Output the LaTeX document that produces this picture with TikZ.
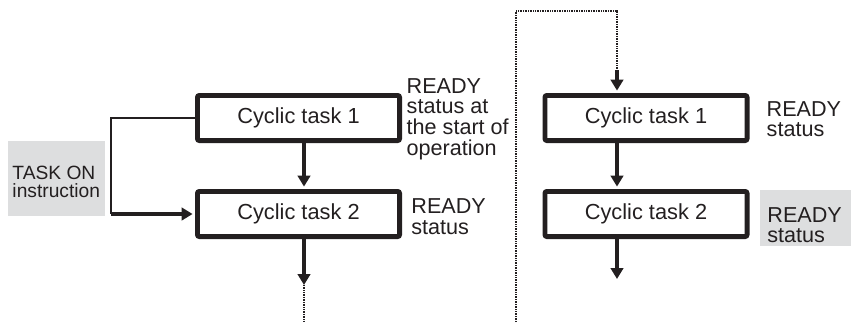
\documentclass[tikz,border=0pt]{standalone}
\usepackage{fontspec}
\setmainfont{Liberation Sans}
\usetikzlibrary{arrows.meta}
\definecolor{ink}{RGB}{35,31,32}
\definecolor{labelgray}{RGB}{221,222,223}
\begin{document}
\begin{tikzpicture}[x=1pt,y=-1pt,
  taskbox/.style={draw=ink, line width=4.8pt, rounded corners=2pt, minimum width=202.2pt, minimum height=45.2pt, inner sep=0pt, text=ink, font=\fontsize{21.8}{24}\selectfont},
  lbl/.style={anchor=north west, inner sep=0pt, align=left, text=ink, font=\fontsize{21.6}{20.8}\selectfont},
  smalllbl/.style={anchor=north west, inner sep=0pt, align=left, text=ink, font=\fontsize{19.2}{18}\selectfont},
  flow/.style={draw=ink, line width=3.8pt, -{Triangle[length=11pt,width=12.5pt]}},
  dotline/.style={draw=ink, line width=2pt, dash pattern=on 1pt off 0.7pt},
  thinline/.style={draw=ink, line width=1.1pt}]
\useasboundingbox (0,0) rectangle (851,322);
% gray backgrounds
\fill[labelgray] (8,141) rectangle (105,216);
\fill[labelgray] (760,190) rectangle (851,246);
% boxes
\node[taskbox] (lb1) at (298.5,118) {Cyclic task 1};
\node[taskbox] (lb2) at (298.5,214) {Cyclic task 2};
\node[taskbox] (rb1) at (646,118) {Cyclic task 1};
\node[taskbox] (rb2) at (646,214) {Cyclic task 2};
% labels
\node[lbl] (l1) at (406.5,78) {READY\\status at\\the start of\\operation};
\node[lbl] (l2) at (411.2,198.6) {READY\\status};
\node[lbl] (r1) at (766.5,101) {READY\\status};
\node[lbl] (r2) at (767.2,207) {READY\\status};
\node[smalllbl] (task) at (12.3,166) {TASK ON\\instruction};
% coordinates
\coordinate (la) at (304,0);
\coordinate (ra) at (617,0);
\coordinate (jx) at (111,0);
\coordinate (lt) at (304,285);
\coordinate (lbot) at (304,322);
\coordinate (rt) at (617,279);
\coordinate (d0) at (516,322);
\coordinate (d1) at (516,11);
\coordinate (d2) at (617,11);
\coordinate (d3) at (617,70);
% left flow
\draw[flow, shorten >=2.4pt] (lb1.south -| la) -- (lb2.north -| la);
\draw[flow] (lb2.south -| la) -- (lt);
\draw[dotline] (lt) -- (lbot);
% TASK ON connector
\draw[thinline] (lb1.west) -- (lb1.west -| jx) -- (lb2.west -| jx);
\draw[flow, shorten >=2.4pt] (lb2.west -| jx) -- (lb2.west);
% right flow
\draw[dotline] (d0) -- (d1) -- (d2) -- (d3);
\draw[flow, shorten >=2.4pt] (d3) -- (rb1.north -| ra);
\draw[flow, shorten >=2.4pt] (rb1.south -| ra) -- (rb2.north -| ra);
\draw[flow] (rb2.south -| ra) -- (rt);
\end{tikzpicture}
\end{document}
